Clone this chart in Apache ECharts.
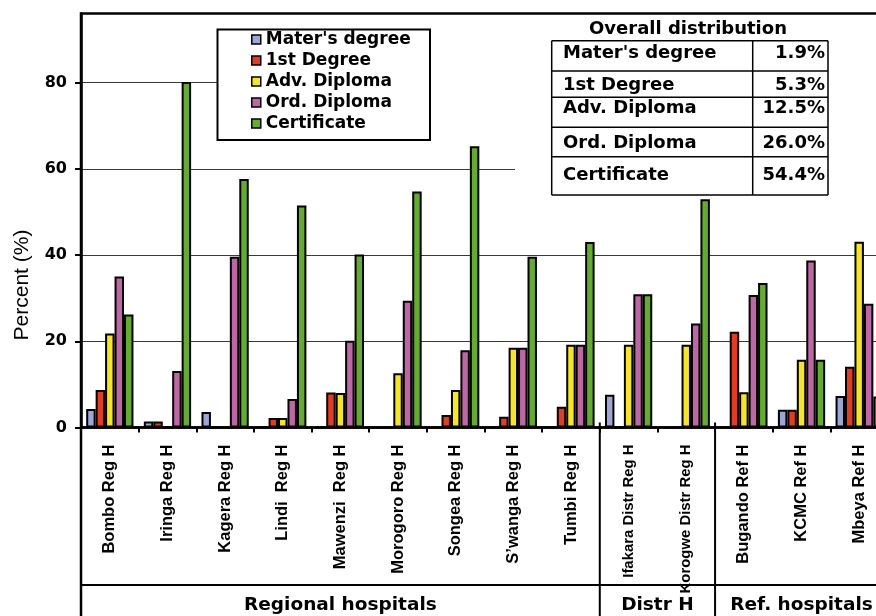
<!DOCTYPE html>
<html>
<head>
<meta charset="utf-8">
<script src="https://cdn.jsdelivr.net/npm/echarts@6/dist/echarts.min.js"></script>
<style>
  html, body { margin: 0; padding: 0; background: #fff; overflow: hidden; width: 876px; height: 616px; }
  /* drawing surface is a little wider than the page: the last hospital is cut at the right edge */
  #chart { width: 890px; height: 616px; }
</style>
</head>
<body>
<div id="chart"></div>
<script>
// Staff qualification mix per hospital (percent of staff)
const hospitals = [
  'Bombo Reg H', 'Iringa Reg H', 'Kagera Reg H', 'Lindi  Reg H', 'Mawenzi  Reg H',
  'Morogoro Reg H', 'Songea Reg H', 'S\u2019wanga Reg H', 'Tumbi Reg H',
  'Ifakara Distr Reg H', 'Korogwe Distr Reg H',
  'Bugando Ref H', 'KCMC Ref H', 'Mbeya Ref H'
];
const qualifications = ["Mater's degree", '1st Degree', 'Adv. Diploma', 'Ord. Diploma', 'Certificate'];

const mastersDegree = [4.3, 1.4, 3.6, 0, 0, 0, 0, 0, 0, 7.6, 0, 0, 4.1, 7.3];
const firstDegree   = [8.7, 1.4, 0, 2.2, 8.1, 0, 2.9, 2.5, 4.8, 0, 0, 22.2, 4.1, 14.1];
const advDiploma    = [21.8, 0, 0, 2.2, 8.0, 12.6, 8.7, 18.5, 19.2, 19.2, 19.2, 8.2, 15.7, 43.1];
const ordDiploma    = [35.0, 13.1, 39.6, 6.6, 20.1, 29.4, 17.9, 18.5, 19.2, 30.9, 24.1, 30.7, 38.7, 28.7];
const certificate   = [26.2, 80.1, 57.6, 51.5, 40.1, 54.7, 65.2, 39.6, 43.0, 30.9, 52.9, 33.5, 15.7, 7.2];

// Overall distribution table
const overallShare = [1.9, 5.3, 12.5, 26.0, 54.4];

// Hospital groups along the bottom band
const groupNames = ['Regional hospitals', 'Distr H', 'Ref. hospitals'];
const groupSizes = [9, 2, 3];

const yTicks = [0, 20, 40, 60, 80];

const seriesValues = [mastersDegree, firstDegree, advDiploma, ordDiploma, certificate];
const colors = ['#9ca7d7', '#e83a1f', '#f6e61b', '#c065a6', '#62ae2a'];

const chart = echarts.init(document.getElementById('chart'), null, { renderer: 'canvas' });

// hospital label style; long district-hospital names are set a size smaller
const labelStyle = { fontFamily: 'Liberation Sans', fontWeight: 'bold', fontSize: 16.5, color: '#000' };
const axisCategories = hospitals.map(h =>
  h.length > 16 ? { value: h, textStyle: Object.assign({}, labelStyle, { fontSize: 14.9 }) } : h);

const option = {
  animation: false,
  backgroundColor: '#fff',
  grid: {
    left: 81, width: 807, top: 13.5, height: 414,
    outerBoundsMode: 'none',
    show: true, borderColor: '#000', borderWidth: 2.5
  },
  legend: {
    orient: 'vertical',
    left: 251, top: 31, padding: 0,
    itemWidth: 9, itemHeight: 9, itemGap: 4,
    icon: 'rect',
    selectedMode: false,
    z: 10,
    itemStyle: { borderColor: '#000', borderWidth: 1.5 },
    textStyle: { fontFamily: 'DejaVu Sans', fontWeight: 'bold', fontSize: 17, lineHeight: 17, color: '#000' },
    data: qualifications
  },
  xAxis: {
    type: 'category',
    data: axisCategories,
    axisLine: { lineStyle: { color: '#000', width: 2.5 } },
    axisTick: { show: true, length: 5, lineStyle: { color: '#000', width: 2 } },
    axisLabel: Object.assign({ interval: 0, rotate: 90, margin: 17 }, labelStyle),
    splitLine: { show: false }
  },
  yAxis: {
    type: 'value', min: 0, max: 96, interval: 20,
    axisLine: { show: true, lineStyle: { color: '#000', width: 2.5 } },
    axisTick: { show: true, length: 6, customValues: yTicks, lineStyle: { color: '#000', width: 2 } },
    axisLabel: {
      customValues: yTicks, margin: 14,
      fontFamily: 'DejaVu Sans', fontWeight: 'bold', fontSize: 16, color: '#000'
    },
    splitLine: { show: true, lineStyle: { color: '#3a3a3a', width: 1.2 } }
  },
  series: qualifications.map((name, i) => ({
    type: 'bar',
    name: name,
    data: seriesValues[i],
    barGap: '0%',
    barCategoryGap: '18%',
    z: 2,
    itemStyle: { color: colors[i], borderColor: '#000', borderWidth: 2 }
  }))
};

chart.setOption(option);

// Decorations placed from the axis scales
const cx = i => chart.convertToPixel({ xAxisIndex: 0 }, i);
const step = cx(1) - cx(0);
const edge = k => cx(0) - step / 2 + k * step;
const y0 = chart.convertToPixel({ yAxisIndex: 0 }, 0);
const axisX = 81;
const W = 890, H = 616;

const boldFont = size => ({ fontFamily: 'DejaVu Sans', fontWeight: 'bold', fontSize: size });
const elements = [];

// Percent axis title
elements.push({
  type: 'text', x: 22, y: 285, rotation: Math.PI / 2, z: 5,
  style: { text: 'Percent (%)', fontFamily: 'Liberation Sans', fontSize: 21,
           fill: '#000', textAlign: 'center', textVerticalAlign: 'middle' }
});

// Axis line continued through the label band, bottom band rule
elements.push({ type: 'line', z: 5, shape: { x1: axisX, y1: y0, x2: axisX, y2: H },
                style: { stroke: '#000', lineWidth: 2.5 } });
elements.push({ type: 'line', z: 5, shape: { x1: axisX, y1: 585, x2: W, y2: 585 },
                style: { stroke: '#000', lineWidth: 2 } });

// Group separators and group names
let start = 0;
groupSizes.forEach((n, g) => {
  const a = edge(start), b = edge(start + n);
  if (g > 0) {
    elements.push({ type: 'line', z: 5, shape: { x1: a, y1: y0 - 5, x2: a, y2: H },
                    style: { stroke: '#000', lineWidth: 2 } });
  }
  elements.push({
    type: 'text', x: (a + b) / 2, y: 605, z: 5,
    style: Object.assign({ text: groupNames[g], fill: '#000', textAlign: 'center', textVerticalAlign: 'middle' },
                         boldFont(18.5))
  });
  start += n;
});

// Legend frame
elements.push({ type: 'rect', z: 1, shape: { x: 217.5, y: 29.5, width: 212.5, height: 110.5 },
                style: { fill: '#fff', stroke: '#000', lineWidth: 2 } });

// Backdrop of the overall distribution table
elements.push({ type: 'rect', z: 1, shape: { x: 431, y: 15, width: W - 431, height: 148 },
                style: { fill: '#fff' } });
elements.push({ type: 'rect', z: 1, shape: { x: 515, y: 15, width: W - 515, height: 183 },
                style: { fill: '#fff' } });

// Overall distribution table
const tLeft = 551.7, tMid = 752.7, tRight = 828;
const rowLines = [40.7, 71, 97.3, 127.3, 156.7, 195];
const rowText = [53.5, 85.5, 108.5, 143.5, 175];
elements.push({
  type: 'text', x: 688, y: 29, z: 3,
  style: Object.assign({ text: 'Overall distribution', fill: '#000', textAlign: 'center', textVerticalAlign: 'middle' },
                       boldFont(18))
});
rowLines.forEach(y => elements.push({ type: 'line', z: 3, shape: { x1: tLeft, y1: y, x2: tRight, y2: y },
                                      style: { stroke: '#000', lineWidth: 1.5 } }));
[tLeft, tMid, tRight].forEach(x => elements.push({ type: 'line', z: 3,
  shape: { x1: x, y1: rowLines[0], x2: x, y2: rowLines[rowLines.length - 1] },
  style: { stroke: '#000', lineWidth: 1.5 } }));
qualifications.forEach((q, i) => {
  elements.push({ type: 'text', x: 563, y: rowText[i], z: 3,
    style: Object.assign({ text: q, fill: '#000', textAlign: 'left', textVerticalAlign: 'middle' }, boldFont(18)) });
  elements.push({ type: 'text', x: 825, y: rowText[i], z: 3,
    style: Object.assign({ text: overallShare[i].toFixed(1) + '%', fill: '#000', textAlign: 'right', textVerticalAlign: 'middle' }, boldFont(18)) });
});

chart.setOption({ graphic: { elements: elements } });
</script>
</body>
</html>
